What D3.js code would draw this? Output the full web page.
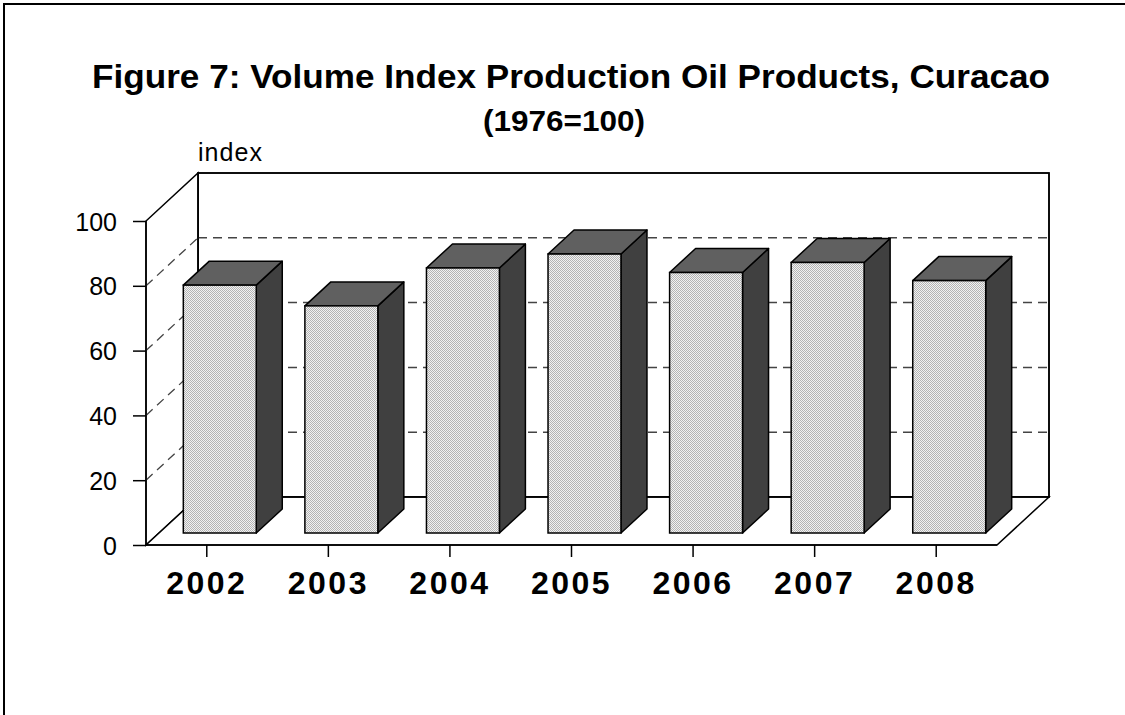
<!DOCTYPE html>
<html>
<head>
<meta charset="utf-8">
<script src="https://cdn.jsdelivr.net/npm/d3@7"></script>
<style>
  html, body { margin: 0; padding: 0; background: #fff; }
  svg { display: block; }
</style>
</head>
<body>
<script>
// ---- Data ----
const categories = ["2002", "2003", "2004", "2005", "2006", "2007", "2008"];
const values = [76.5, 70.1, 81.8, 86.1, 80.4, 83.5, 77.9];
const yTicks = [0, 20, 40, 60, 80, 100];
const titleText = "Figure 7: Volume Index Production Oil Products, Curacao";
const subtitleText = "(1976=100)";
const yAxisLabel = "index";

(function () {
// ---- Layout ----
const W = 1125, H = 715;
const svg = d3.select("body").append("svg").attr("width", W).attr("height", H);

const pLeft = 146, pRight = 997, pBottom = 545, pTop = 221;
const depth = { dx: 52, dy: -48 };

const x = d3.scaleBand().domain(categories).range([pLeft, pRight]).paddingInner(0.4).paddingOuter(0.2);
const y = d3.scaleLinear().domain([0, 100]).range([pBottom, pTop]);

// pattern for front faces
const defs = svg.append("defs");
const pat = defs.append("pattern").attr("id", "stipple").attr("width", 2).attr("height", 2)
  .attr("patternUnits", "userSpaceOnUse");
pat.append("rect").attr("width", 2).attr("height", 2).attr("fill", "#f2f2f2");
pat.append("rect").attr("x", 0).attr("y", 0).attr("width", 1).attr("height", 1).attr("fill", "#b4b4b4");
pat.append("rect").attr("x", 1).attr("y", 1).attr("width", 1).attr("height", 1).attr("fill", "#b4b4b4");

// outer frame
svg.append("rect").attr("x", 4).attr("y", 4).attr("width", 1200).attr("height", 900)
  .attr("fill", "none").attr("stroke", "#000").attr("stroke-width", 2);

const FF = "Liberation Sans, Arial, sans-serif";
// titles
svg.append("text").attr("x", 571).attr("y", 88).attr("text-anchor", "middle")
  .attr("font-family", FF).attr("font-weight", "bold")
  .attr("font-size", 33).attr("textLength", 958).attr("lengthAdjust", "spacingAndGlyphs")
  .text(titleText);
svg.append("text").attr("x", 564).attr("y", 131).attr("text-anchor", "middle")
  .attr("font-family", FF).attr("font-weight", "bold")
  .attr("font-size", 29).attr("textLength", 162).attr("lengthAdjust", "spacingAndGlyphs")
  .text(subtitleText);

// y label
svg.append("text").attr("x", 198).attr("y", 161)
  .attr("font-family", FF)
  .attr("font-size", 25).attr("textLength", 64).attr("lengthAdjust", "spacing")
  .text(yAxisLabel);

const g = svg.append("g");
const line = (pts) => "M" + pts.map(p => p.join(",")).join("L");

// walls
const y0 = y(0), y100 = y(100);
const backPts = [[pLeft + depth.dx, y0 + depth.dy], [pLeft + depth.dx, y100 + depth.dy],
                 [pRight + depth.dx, y100 + depth.dy], [pRight + depth.dx, y0 + depth.dy]];
g.append("path").attr("d", line(backPts) + "Z")
  .attr("fill", "#fff").attr("stroke", "#000").attr("stroke-width", 1.5);
g.append("path")
  .attr("d", line([[pLeft, y0], [pLeft, y100], [pLeft + depth.dx, y100 + depth.dy], [pLeft + depth.dx, y0 + depth.dy]]) + "Z")
  .attr("fill", "#fff").attr("stroke", "#000").attr("stroke-width", 1.5);
g.append("path")
  .attr("d", line([[pLeft, y0], [pRight, y0], [pRight + depth.dx, y0 + depth.dy], [pLeft + depth.dx, y0 + depth.dy]]) + "Z")
  .attr("fill", "#fff").attr("stroke", "#000").attr("stroke-width", 1.5);

// gridlines
const gridVals = yTicks.filter(v => v > 0 && v < 100);
g.selectAll(".gridback").data(gridVals).join("line")
  .attr("x1", pLeft + depth.dx).attr("x2", pRight + depth.dx)
  .attr("y1", d => y(d) + depth.dy).attr("y2", d => y(d) + depth.dy)
  .attr("stroke", "#444").attr("stroke-width", 1.5).attr("stroke-dasharray", "9,6");
g.selectAll(".gridside").data(gridVals).join("line")
  .attr("x1", pLeft).attr("x2", pLeft + depth.dx)
  .attr("y1", d => y(d)).attr("y2", d => y(d) + depth.dy)
  .attr("stroke", "#444").attr("stroke-width", 1.3).attr("stroke-dasharray", "9,6");

g.append("path").attr("d", line(backPts) + "Z")
  .attr("fill", "none").attr("stroke", "#000").attr("stroke-width", 1.5);

// bars
const bw = x.bandwidth();
const fx = depth.dx * 0.25, fy = depth.dy * 0.25;
const bdx = depth.dx * 0.5, bdy = depth.dy * 0.5;
const bars = g.selectAll(".bar").data(categories.map((c, i) => ({ c, v: values[i] }))).join("g");
bars.each(function (d) {
  const sel = d3.select(this);
  const x0 = x(d.c) + fx;
  const yb = y(0) + fy;
  const yt = y(d.v) + fy;
  sel.append("path")
    .attr("d", line([[x0 + bw, yb], [x0 + bw + bdx, yb + bdy], [x0 + bw + bdx, yt + bdy], [x0 + bw, yt]]) + "Z")
    .attr("fill", "#404040").attr("stroke", "#000").attr("stroke-width", 1.5).attr("stroke-linejoin", "round");
  sel.append("path")
    .attr("d", line([[x0, yt], [x0 + bdx, yt + bdy], [x0 + bw + bdx, yt + bdy], [x0 + bw, yt]]) + "Z")
    .attr("fill", "#606060").attr("stroke", "#000").attr("stroke-width", 1.5).attr("stroke-linejoin", "round");
  sel.append("rect")
    .attr("x", x0).attr("y", yt).attr("width", bw).attr("height", yb - yt)
    .attr("fill", "url(#stipple)").attr("stroke", "#000").attr("stroke-width", 1.5);
});

// y axis
const yAxis = d3.axisLeft(y).tickValues(yTicks).tickSize(13).tickPadding(16).tickFormat(d3.format("d"));
const ya = svg.append("g").attr("transform", `translate(${pLeft},0)`).call(yAxis);
ya.select(".domain").remove();
ya.selectAll(".tick line").attr("stroke", "#000").attr("stroke-width", 1.5);
ya.selectAll(".tick text").attr("font-family", FF)
  .attr("font-size", 25).attr("fill", "#000").attr("dy", "0.36em");

// x axis
const xAxis = d3.axisBottom(x).tickSize(12).tickPadding(14);
const xa = svg.append("g").attr("transform", `translate(0,${pBottom})`).call(xAxis);
xa.select(".domain").remove();
xa.selectAll(".tick line").attr("stroke", "#000").attr("stroke-width", 1.5);
xa.selectAll(".tick text").attr("font-family", FF)
  .attr("font-weight", "bold").attr("font-size", 32).attr("fill", "#000")
  .attr("letter-spacing", 2.5).attr("dy", "0.71em");

svg.append("path").attr("d", line([[pLeft, pTop], [pLeft, pBottom], [pRight, pBottom]]))
  .attr("fill", "none").attr("stroke", "#000").attr("stroke-width", 1.5);
})();
</script>
</body>
</html>
